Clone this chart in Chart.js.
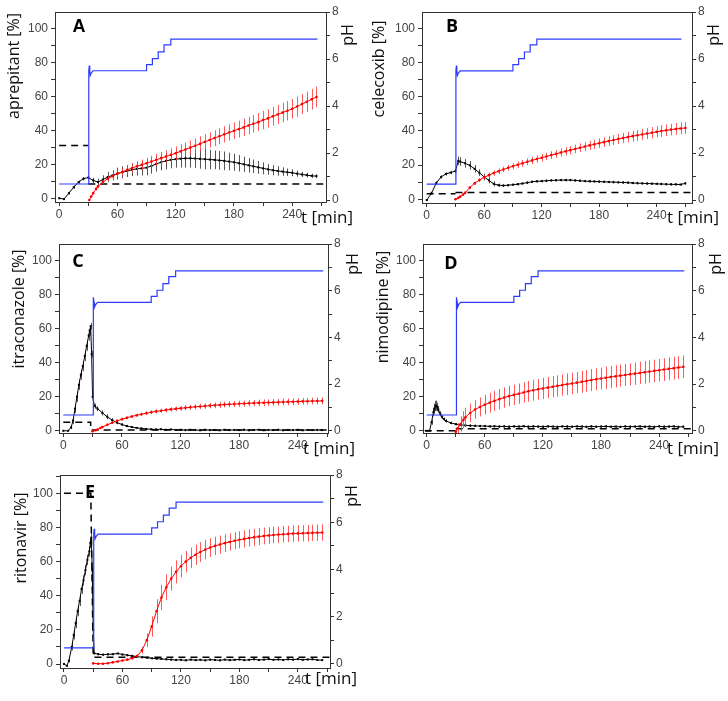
<!DOCTYPE html>
<html><head><meta charset="utf-8">
<script src="https://cdn.jsdelivr.net/npm/chart.js"></script>
<style>
html,body{margin:0;padding:0;background:#fff;}
#wrap{position:relative;width:728px;height:701px;overflow:hidden;background:#fff;}
canvas{position:absolute;}
</style></head>
<body><div id="wrap">
<canvas id="cA" width="364" height="230" style="left:0;top:0"></canvas>
<canvas id="cB" width="364" height="230" style="left:364px;top:0"></canvas>
<canvas id="cC" width="364" height="230" style="left:0;top:230px"></canvas>
<canvas id="cD" width="364" height="230" style="left:364px;top:230px"></canvas>
<canvas id="cE" width="364" height="241" style="left:0;top:460px"></canvas>
</div>
<script>
// ---------------- DATA ----------------
const panelLetters = ['A','B','C','D','E'];
const drugNames = ['aprepitant','celecoxib','itraconazole','nimodipine','ritonavir'];
const yTitleSuffix = ' [%]';
const rightTitle = 'pH';
const xTitle = 't [min]';

// pH profile (right axis)
const pH_t = [0, 30.5, 30.5, 31, 31.5, 32, 33, 35, 90, 90, 96, 96, 102, 102, 108, 108, 115, 115, 266];
const pH_v = [0.68, 0.68, 5.5, 5.72, 5.5, 5.3, 5.4, 5.5, 5.5, 5.76, 5.76, 6.02, 6.02, 6.3, 6.3, 6.6, 6.6, 6.85, 6.85];

// A - aprepitant
const A_blk_t = [0,5,10,15,20,25,30,35,40,45,50,55,60,65,70,75,80,85,90,95,100,105,110,115,120,125,130,135,140,145,150,155,160,165,170,175,180,185,190,195,200,205,210,215,220,225,230,235,240,245,250,255,260,265];
const A_blk_v = [0,-0.5,3,6.5,9.5,11.5,12.2,10.5,9.5,11,12.5,13.5,14.5,15.3,16,16.8,17.3,17.6,18,19,20.2,21.2,22,22.6,23,23.3,23.5,23.5,23.4,23.2,23,22.8,22.6,22.3,22,21.6,21.2,20.6,20,19.4,18.8,18.2,17.6,17,16.5,16.1,15.7,15.3,15,14.5,14,13.6,13.2,13];
const A_blk_e = [0.5,0.5,0.8,1,1,1,1,1.5,2,2.5,3,3,3.5,3.5,3.5,3.8,4,4.2,4.5,4.5,4.5,4.8,5,5,5,5.2,5.5,5.5,5.5,5.8,6,5.8,5.5,5.5,5.5,5.2,5,4.8,4.5,4.2,4,3.8,3.5,3.2,3,2.8,2.5,2.2,2,1.8,1.5,1.4,1.3,1.2];
const A_red_t = [31,33,35,38,40,45,50,55,60,65,70,75,80,85,90,95,100,105,110,115,120,125,130,135,140,145,150,155,160,165,170,175,180,185,190,195,200,205,210,215,220,225,230,235,240,245,250,255,260,265];
const A_red_v = [-1,1,3,5.5,7,9.5,11.5,13,14.5,15.5,16.7,17.8,18.8,19.7,20.6,21.6,22.6,23.6,24.6,25.5,26.5,27.6,28.7,29.8,30.9,32,33.2,34.3,35.4,36.5,37.6,38.7,39.7,40.7,41.7,42.8,43.8,44.8,46,47,48.2,49.3,50.4,51.5,52.6,54,55.4,56.8,58.2,59.6];
const A_red_e = [0.5,0.5,0.6,0.8,1,1.2,1.5,1.8,2,2.2,2.5,2.7,3,3.1,3.2,3.4,3.5,3.6,3.7,3.8,4,4.1,4.2,4.2,4.3,4.4,4.5,4.5,4.6,4.7,4.8,4.8,4.9,5,5.1,5.1,5.2,5.3,5.4,5.4,5.5,5.6,5.7,5.7,5.8,5.9,5.9,6,6,6];
const A_sol_t = [0,30,30,30,274];
const A_sol_v = [31,31,null,8.4,8.4];

// B - celecoxib
const B_blk_t = [0,5,10,15,20,25,30,33,35,40,45,50,55,60,65,70,75,80,85,90,95,100,105,110,115,120,125,130,135,140,145,150,155,160,165,170,175,180,185,190,195,200,205,210,215,220,225,230,235,240,245,250,255,260,265,270];
const B_blk_v = [-0.5,3.5,9.5,13,14.8,15.6,16.5,22.5,22,21,19.8,17.8,15.5,13,11,9,8.2,8,8.2,8.5,8.8,9.2,9.7,10.2,10.5,10.6,10.8,11,11.1,11.2,11.2,11.2,11,10.8,10.6,10.5,10.4,10.3,10.2,10.1,10,9.9,9.8,9.7,9.5,9.4,9.3,9.2,9.1,9,8.9,8.8,8.7,8.7,8.6,9.3];
const B_blk_e = [0.5,0.8,1,1,1,1,1.2,2.5,2.5,2.5,2.5,2.2,2,2,1.8,1.5,1,0.8,0.7,0.7,0.7,0.7,0.8,0.7,0.7,0.7,0.8,0.7,0.7,0.7,0.8,0.7,0.7,0.7,0.7,0.8,0.7,0.7,0.7,0.7,0.8,0.7,0.7,0.7,0.7,0.8,0.7,0.7,0.7,0.7,0.8,0.7,0.7,0.7,0.7,0.8];
const B_red_t = [30,33,35,38,40,45,50,55,60,65,70,75,80,85,90,95,100,105,110,115,120,125,130,135,140,145,150,155,160,165,170,175,180,185,190,195,200,205,210,215,220,225,230,235,240,245,250,255,260,265,270];
const B_red_v = [0,0.8,1.5,2.7,3.7,6.8,9.3,11.2,12.8,14.1,15.3,16.4,17.4,18.4,19.3,20.2,21,21.9,22.7,23.5,24.3,25,25.8,26.5,27.3,28,28.7,29.4,30.1,30.8,31.5,32.1,32.8,33.4,34,34.6,35.2,35.8,36.4,36.9,37.4,37.9,38.4,38.9,39.4,39.9,40.3,40.7,41.1,41.4,41.7];
const B_red_e = [0.3,0.5,0.5,0.6,0.7,0.8,1,1.1,1.3,1.4,1.5,1.6,1.7,1.7,1.8,1.9,2,2,2.1,2.1,2.2,2.2,2.3,2.3,2.4,2.4,2.5,2.5,2.6,2.6,2.7,2.7,2.8,2.8,2.9,2.9,3,3,3.1,3.1,3.1,3.2,3.2,3.3,3.3,3.4,3.4,3.4,3.5,3.5,3.5];
const B_sol_t = [0,30,30,30,276];
const B_sol_v = [3.2,3.2,null,4,4];

// C - itraconazole
const C_blk_t = [0,5,8,10,12,14,16,18,20,22,24,26,27,28,29,30,32,35,40,45,50,55,60,65,70,75,80,85,90,95,100,105,110,115,120,125,130,135,140,145,150,155,160,165,170,175,180,185,190,195,200,205,210,215,220,225,230,235,240,245,250,255,260,265];
const C_blk_v = [0,0,2,6,13,20,27,33,38,44,50,56,59,61.5,45,20,14.5,13,10.5,8.2,6.3,4.8,3.7,2.8,2.2,1.7,1.4,1.1,0.9,0.8,0.9,0.6,0.8,0.5,0.6,0.4,0.6,0.5,0.3,0.6,0.4,0.5,0.3,0.6,0.4,0.5,0.4,0.6,0.3,0.5,0.6,0.3,0.5,0.4,0.6,0.3,0.5,0.4,0.6,0.3,0.5,0.4,0.5,0.4];
const C_blk_e = [0.3,0.3,1,2,2.5,3,3,3,3,3,3,3,3,2,2,2,1.5,1.5,1.5,1.5,1.2,1,0.8,0.7,0.6,0.5,0.5,0.5,0.5,0.5,0.5,0.5,0.5,0.5,0.5,0.5,0.5,0.5,0.5,0.5,0.5,0.5,0.5,0.5,0.5,0.5,0.5,0.5,0.5,0.5,0.5,0.5,0.5,0.5,0.5,0.5,0.5,0.5,0.5,0.5,0.5,0.5,0.5,0.5];
const C_red_t = [30,33,35,38,40,45,50,55,60,65,70,75,80,85,90,95,100,105,110,115,120,125,130,135,140,145,150,155,160,165,170,175,180,185,190,195,200,205,210,215,220,225,230,235,240,245,250,255,260,265];
const C_red_v = [-0.3,0.3,0.8,1.6,2.2,3.5,4.7,5.8,6.8,7.6,8.4,9.1,9.7,10.3,10.9,11.4,11.8,12.2,12.6,12.9,13.2,13.5,13.8,14.1,14.3,14.5,14.8,15,15.2,15.4,15.6,15.7,15.9,16,16.2,16.3,16.4,16.5,16.6,16.7,16.8,16.9,17,17.1,17.2,17.3,17.4,17.5,17.5,17.6];
const C_red_e = [0.2,0.3,0.3,0.4,0.4,0.5,0.6,0.7,0.8,0.8,0.9,1,1,1.1,1.1,1.2,1.2,1.3,1.3,1.4,1.4,1.5,1.5,1.5,1.6,1.6,1.6,1.7,1.7,1.7,1.8,1.8,1.8,1.8,1.9,1.9,1.9,1.9,1.9,2,2,2,2,2,2,2,2,2,2,2];
const C_sol_t = [0,28,28,274];
const C_sol_v = [5,5,0.5,0.5];

// D - nimodipine
const D_blk_t = [0,3,5,7,8,9,10,11,12,14,16,18,20,25,30,35,40,45,50,55,60,65,70,75,80,85,90,95,100,105,110,115,120,125,130,135,140,145,150,155,160,165,170,175,180,185,190,195,200,205,210,215,220,225,230,235,240,245,250,255,260,265];
const D_blk_v = [0,0,5,11,13,14.5,14.8,14,12.5,10,8,6.8,5.8,4.6,3.9,3.5,3.2,3,2.9,2.8,2.8,2.6,2.7,2.5,2.6,2.4,2.6,2.5,2.7,2.4,2.6,2.5,2.4,2.6,2.5,2.3,2.6,2.5,2.4,2.6,2.5,2.3,2.6,2.4,2.5,2.6,2.4,2.5,2.3,2.6,2.4,2.5,2.6,2.4,2.5,2.3,2.6,2.4,2.5,2.6,2.3,2.4];
const D_blk_e = [0.3,0.3,1.5,2.5,3,3,3,2.5,2,1.5,1.2,1,1,0.8,0.7,0.7,0.7,0.8,0.7,0.7,0.7,0.8,0.7,0.7,0.7,0.8,0.7,0.7,0.7,0.8,0.7,0.7,0.7,0.8,0.7,0.7,0.7,0.8,0.7,0.7,0.7,0.8,0.7,0.7,0.7,0.8,0.7,0.7,0.7,0.8,0.7,0.7,0.7,0.8,0.7,0.7,0.7,0.8,0.7,0.7,0.7,0.8];
const D_red_t = [30,32,35,38,40,45,50,55,60,65,70,75,80,85,90,95,100,105,110,115,120,125,130,135,140,145,150,155,160,165,170,175,180,185,190,195,200,205,210,215,220,225,230,235,240,245,250,255,260,265];
const D_red_v = [-0.5,1.5,4,6.5,8,10.5,12.5,14,15.3,16.5,17.6,18.6,19.5,20.4,21.1,21.8,22.5,23.2,23.8,24.4,24.9,25.4,25.9,26.4,26.9,27.4,27.8,28.3,28.8,29.3,29.8,30.3,30.7,31.2,31.6,32,32.4,32.8,33.2,33.6,34,34.4,34.8,35.2,35.6,36,36.4,36.8,37.2,37.6];
const D_red_e = [0.5,3,4.5,5,5.5,5.5,5.5,5.6,5.8,5.8,5.9,6,6,6,6,6,6,6.1,6.1,6.1,6.2,6.2,6.2,6.2,6.3,6.3,6.3,6.3,6.4,6.4,6.4,6.4,6.4,6.5,6.5,6.5,6.5,6.5,6.5,6.6,6.6,6.6,6.6,6.6,6.6,6.7,6.7,6.7,6.7,6.7];
const D_sol_t = [-2,30,30,30,274];
const D_sol_v = [0,0,null,1.2,1.2];

// E - ritonavir
const E_blk_t = [0,3,5,8,10,12,14,16,18,20,22,24,26,27,28,29,30,31,35,40,45,50,55,60,65,70,75,80,85,90,95,100,105,110,115,120,125,130,135,140,145,150,155,160,165,170,175,180,185,190,195,200,205,210,215,220,225,230,235,240,245,250,255,260,265];
const E_blk_v = [0,-1,2,10,17,24,31,37,44,49,55,61,66,71,74,55,20,6.3,5.8,5.5,5.7,5.8,6.2,5.6,5.2,4.8,4.4,4,3.7,3.4,3.2,3,2.8,2.6,2.4,2.5,2.2,2.6,2.3,2.5,2.2,2.6,2.4,2.2,2.6,2.3,2.5,2.7,2.3,2.5,2.8,2.4,2.6,2.9,2.5,2.7,2.4,2.8,2.6,2.9,2.5,2.7,2.8,2.4,2.3];
const E_blk_e = [0.3,0.5,1,2,2.5,3,3,3,3,3,3,3,3,3,3,2,1.5,0.8,0.6,0.6,0.6,0.6,0.6,0.6,0.6,0.6,0.6,0.6,0.6,0.6,0.6,0.5,0.5,0.5,0.5,0.5,0.5,0.5,0.5,0.5,0.5,0.5,0.5,0.5,0.5,0.5,0.5,0.5,0.5,0.5,0.5,0.5,0.5,0.5,0.5,0.5,0.5,0.5,0.5,0.5,0.5,0.5,0.5,0.5,0.5];
const E_red_t = [30,35,40,45,50,55,60,65,70,75,80,85,90,95,100,105,110,115,120,125,130,135,140,145,150,155,160,165,170,175,180,185,190,195,200,205,210,215,220,225,230,235,240,245,250,255,260,265];
const E_red_v = [0.4,0.2,0.2,0.5,1,1.5,2.1,2.6,3.4,4.7,8,14,22,31,39,45,50,54,57.3,60,62.2,64,65.6,67,68.2,69.2,70,70.8,71.5,72.2,72.8,73.3,73.8,74.2,74.6,75,75.3,75.6,75.8,76,76.2,76.4,76.5,76.6,76.7,76.8,76.9,77];
const E_red_e = [0.3,0.3,0.3,0.4,0.5,0.5,0.6,0.7,0.8,1,2,4,6,7,7.5,7.5,7,6.8,6.5,6.3,6,6,5.8,5.7,5.5,5.4,5.3,5.2,5.1,5,5,5,5,5,5,4.9,4.9,4.9,4.8,4.8,4.8,4.8,4.8,4.8,4.8,4.8,4.8,4.8];
const E_sol_t = [0,27.5,30,274];
const E_sol_v = [100,100,4,4];

// ---------------- LAYOUT (pixels, per panel canvas) ----------------
const PANELS = [
  {id:'cA', W:364, H:230, area:{l:55,r:326,t:12,b:202}, xr:[-4.3,274.8], yr:[-2.2,109.6], pr:[-0.085,8],
   letter:[79,27], letterFont:'bold 18px "Liberation Sans"', yt:[14,66], ph:[348,35], tmin:[301,218],
   blk:[A_blk_t,A_blk_v,A_blk_e], red:[A_red_t,A_red_v,A_red_e], sol:[A_sol_t,A_sol_v]},
  {id:'cB', W:364, H:230, area:{l:58,r:328,t:12,b:203}, xr:[-4.9,277], yr:[-2.2,109.5], pr:[-0.12,8],
   letter:[88,27], letterFont:'bold 18px "Open Sans"', yt:[15,69], ph:[350,35], tmin:[303,218],
   blk:[B_blk_t,B_blk_v,B_blk_e], red:[B_red_t,B_red_v,B_red_e], sol:[B_sol_t,B_sol_v]},
  {id:'cC', W:364, H:230, area:{l:59,r:328,t:14,b:203}, xr:[-4.4,271], yr:[-1.3,109.8], pr:[-0.09,8],
   letter:[78,32], letterFont:'bold 18px "Open Sans"', yt:[19,79], ph:[353,34], tmin:[303,219],
   blk:[C_blk_t,C_blk_v,C_blk_e], red:[C_red_t,C_red_v,C_red_e], sol:[C_sol_t,C_sol_v]},
  {id:'cD', W:364, H:230, area:{l:59,r:328,t:14,b:203}, xr:[-3.8,274], yr:[-1.3,109.8], pr:[-0.09,8],
   letter:[87,34], letterFont:'bold 18px "Open Sans"', yt:[19,77], ph:[352,34], tmin:[303,219],
   blk:[D_blk_t,D_blk_v,D_blk_e], red:[D_red_t,D_red_v,D_red_e], sol:[D_sol_t,D_sol_v]},
  {id:'cE', W:364, H:241, area:{l:60,r:330,t:15,b:208}, xr:[-4.1,273], yr:[-2.3,110.7], pr:[-0.17,8],
   letter:[90,33], letterFont:'bold 18px "Open Sans"', yt:[21,78], ph:[352,36], tmin:[305,219],
   blk:[E_blk_t,E_blk_v,E_blk_e], red:[E_red_t,E_red_v,E_red_e], sol:[E_sol_t,E_sol_v]}
];

// ---------------- DRAWING ----------------
function pts(t, v) { return t.map((x, i) => ({x: x, y: v[i]})); }

const errPlugin = {
  id: 'errbars',
  beforeDatasetDraw(chart, args) {
    const ds = chart.data.datasets[args.index];
    if (!ds.errs) return;
    const meta = args.meta;
    const xs = chart.scales[meta.xAxisID], ys = chart.scales[meta.yAxisID];
    const ctx = chart.ctx;
    ctx.save();
    ctx.strokeStyle = ds.errColor;
    ctx.lineWidth = 1;
    ctx.beginPath();
    ds.data.forEach((p, i) => {
      const e = ds.errs[i];
      if (p.y == null || !e) return;
      const x = Math.round(xs.getPixelForValue(p.x)) + 0.5;
      ctx.moveTo(x, ys.getPixelForValue(p.y + e));
      ctx.lineTo(x, ys.getPixelForValue(p.y - e));
    });
    ctx.stroke();
    ctx.restore();
  }
};

function makeTextPlugin(P, idx) {
  return {
    id: 'panelText' + idx,
    afterDraw(chart) {
      const ctx = chart.ctx, a = chart.chartArea;
      ctx.save();
      ctx.strokeStyle = '#333'; ctx.lineWidth = 1;
      ctx.beginPath(); ctx.moveTo(a.left, Math.round(a.top) + 0.5); ctx.lineTo(a.right, Math.round(a.top) + 0.5); ctx.stroke();
      ctx.fillStyle = '#000';
      ctx.textAlign = 'center'; ctx.textBaseline = 'middle';
      ctx.font = P.letterFont;
      ctx.fillText(panelLetters[idx], P.letter[0], P.letter[1]);
      ctx.font = '16px "Open Sans"';
      ctx.fillStyle = '#111';
      ctx.save(); ctx.translate(P.yt[0], P.yt[1]); ctx.rotate(-Math.PI / 2);
      ctx.fillText(drugNames[idx] + yTitleSuffix, 0, 0); ctx.restore();
      ctx.save(); ctx.translate(P.ph[0], P.ph[1]); ctx.rotate(-Math.PI / 2);
      ctx.fillText(rightTitle, 0, 0); ctx.restore();
      ctx.textAlign = 'left';
      ctx.font = '17px "Open Sans"';
      ctx.fillText(xTitle, P.tmin[0], P.tmin[1]);
      ctx.restore();
    }
  };
}

const tickFont = {family: '"Liberation Sans", Arial, sans-serif', size: 12};
const tickColor = '#444';
const axisColor = '#333';

PANELS.forEach((P, idx) => {
  const datasets = [
    {label: 'pH', data: pts(pH_t, pH_v), yAxisID: 'yR', borderColor: '#2c3cff', borderWidth: 1.2, pointRadius: 0},
    {label: 'permeated', data: pts(P.red[0], P.red[1]), errs: P.red[2], errColor: 'rgba(255,60,60,0.85)',
     yAxisID: 'y', borderColor: '#ff0000', borderWidth: 1, pointRadius: 1.3, pointBackgroundColor: '#ff0000', pointBorderWidth: 0},
    {label: 'donor', data: pts(P.blk[0], P.blk[1]), errs: P.blk[2], errColor: 'rgba(30,30,30,0.75)',
     yAxisID: 'y', borderColor: '#000', borderWidth: 1, pointRadius: 1.4, pointStyle: 'rect', pointBackgroundColor: '#000', pointBorderWidth: 0},
    {label: 'solubility', data: pts(P.sol[0], P.sol[1]), yAxisID: 'y', borderColor: '#000', borderWidth: 1.5,
     borderDash: [7, 5], pointRadius: 0, spanGaps: false}
  ];
  new Chart(document.getElementById(P.id), {
    type: 'line',
    data: {datasets: datasets},
    options: {
      responsive: false, animation: false, devicePixelRatio: 1,
      layout: {padding: {top: P.area.t, left: 0, right: 0, bottom: 0}},
      plugins: {legend: {display: false}, tooltip: {enabled: false}, title: {display: false}},
      elements: {line: {tension: 0}},
      scales: {
        x: {
          type: 'linear', position: 'bottom', min: P.xr[0], max: P.xr[1],
          afterFit(s) { s.height = P.H - P.area.b; },
          ticks: {stepSize: 30, autoSkip: false, includeBounds: false, maxRotation: 0, padding: 1,
                  color: tickColor, font: tickFont,
                  callback: v => (Math.round(v) % 60 === 0 ? String(Math.round(v)) : '')},
          grid: {drawOnChartArea: false, tickLength: 4, color: axisColor},
          border: {color: axisColor, width: 1}
        },
        y: {
          type: 'linear', position: 'left', min: P.yr[0], max: P.yr[1],
          afterFit(s) { s.width = P.area.l; },
          ticks: {stepSize: 10, autoSkip: false, includeBounds: false, padding: 3,
                  color: tickColor, font: tickFont,
                  callback: v => (Math.round(v) % 20 === 0 ? String(Math.round(v)) : '')},
          grid: {drawOnChartArea: false, tickLength: 4, color: axisColor},
          border: {color: axisColor, width: 1}
        },
        yR: {
          type: 'linear', position: 'right', min: P.pr[0], max: P.pr[1],
          afterFit(s) { s.width = P.W - P.area.r; },
          ticks: {stepSize: 1, autoSkip: false, includeBounds: false, padding: 2,
                  color: tickColor, font: tickFont,
                  callback: v => (Math.round(v) % 2 === 0 ? String(Math.round(v)) : '')},
          grid: {drawOnChartArea: false, tickLength: 4, color: axisColor},
          border: {color: axisColor, width: 1}
        }
      }
    },
    plugins: [errPlugin, makeTextPlugin(P, idx)]
  });
});
</script>
</body></html>
